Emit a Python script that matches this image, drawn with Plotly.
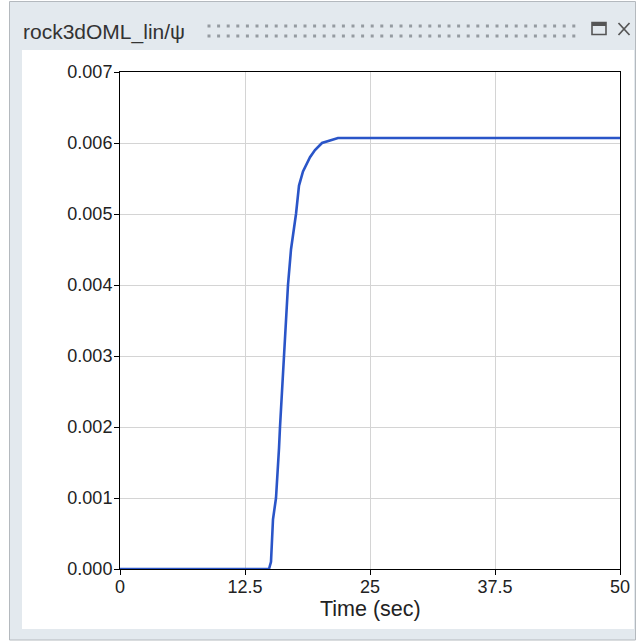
import plotly.graph_objects as go

# Data
time_sec = [0, 14.9, 15.1, 15.2, 15.3, 15.6, 15.8, 15.9, 16.0, 16.4, 16.8, 17.1, 17.3,
            17.6, 17.9, 18.3, 19.0, 19.5, 20.2, 20.8, 21.8, 50]
psi = [0, 0, 0.0001, 0.0004, 0.0007, 0.001, 0.0014, 0.0017, 0.002, 0.003, 0.004, 0.0045,
       0.0047, 0.005, 0.0054, 0.0056, 0.0058, 0.0059, 0.0060, 0.00603, 0.00607, 0.00607]

x_ticks = [0, 12.5, 25, 37.5, 50]
x_tick_labels = ["0", "12.5", "25", "37.5", "50"]
y_ticks = [0, 0.001, 0.002, 0.003, 0.004, 0.005, 0.006, 0.007]
title_text = "rock3dOML_lin/ψ"
x_title = "Time (sec)"

W, H = 637, 642
L, R, T, B = 120, 620, 72, 569
FONT = "Liberation Sans, Arial, sans-serif"


def px(p):
    return (p - L) / (R - L)


def py(p):
    return (B - p) / (B - T)


fig = go.Figure()
fig.add_trace(go.Scatter(x=time_sec, y=psi, mode="lines",
                         line=dict(color="#2a55c8", width=2.6),
                         showlegend=False, hoverinfo="skip"))

shapes = []
# outer frame
shapes.append(dict(type="rect", xref="paper", yref="paper", x0=px(9.5), x1=px(635.5),
                   y0=py(640), y1=py(1.5), line=dict(color="#b4b9be", width=1),
                   fillcolor="#e3e9ee", layer="below"))
# white panel
shapes.append(dict(type="rect", xref="paper", yref="paper", x0=px(22), x1=px(634),
                   y0=py(629), y1=py(50), line=dict(width=0),
                   fillcolor="white", layer="below"))
# dotted grip
for row in (26, 36):
    for i in range(39):
        x = 209 + i * 9.6
        shapes.append(dict(type="rect", xref="paper", yref="paper",
                           x0=px(x - 1.5), x1=px(x + 1.5), y0=py(row + 1.5), y1=py(row - 1.5),
                           line=dict(width=0), fillcolor="#959ba1"))
# maximize icon
shapes.append(dict(type="rect", xref="paper", yref="paper", x0=px(592), x1=px(606),
                   y0=py(34.5), y1=py(22.5), line=dict(color="#555", width=1.6),
                   fillcolor="rgba(0,0,0,0)"))
shapes.append(dict(type="line", xref="paper", yref="paper", x0=px(592), x1=px(606),
                   y0=py(24.5), y1=py(24.5), line=dict(color="#555", width=3)))
# close icon
shapes.append(dict(type="line", xref="paper", yref="paper", x0=px(618.5), x1=px(629.5),
                   y0=py(23), y1=py(35), line=dict(color="#555", width=1.7)))
shapes.append(dict(type="line", xref="paper", yref="paper", x0=px(618.5), x1=px(629.5),
                   y0=py(35), y1=py(23), line=dict(color="#555", width=1.7)))

annotations = [
    dict(text=title_text, xref="paper", yref="paper", x=px(21), y=py(31.5),
         xanchor="left", yanchor="middle", showarrow=False,
         font=dict(family=FONT, size=21, color="#333")),
    dict(text=x_title, xref="paper", yref="paper", x=px(370), y=py(609),
         xanchor="center", yanchor="middle", showarrow=False,
         font=dict(family=FONT, size=21.5, color="#222")),
]

fig.update_layout(
    width=W, height=H,
    margin=dict(l=L, r=W - R, t=T, b=H - B, autoexpand=False),
    paper_bgcolor="white",
    plot_bgcolor="white",
    font=dict(family=FONT, size=18, color="#222"),
    shapes=shapes,
    annotations=annotations,
    xaxis=dict(range=[0, 50], tickvals=x_ticks, ticktext=x_tick_labels,
               showgrid=True, gridcolor="#d4d4d4", gridwidth=1,
               showline=True, linecolor="black", linewidth=1, mirror=True,
               ticks="outside", ticklen=5, tickcolor="black", zeroline=False,
               ticklabelstandoff=-4, tickfont=dict(size=18)),
    yaxis=dict(range=[0, 0.007], tickvals=y_ticks, tickformat=".3f",
               showgrid=True, gridcolor="#d4d4d4", gridwidth=1,
               showline=True, linecolor="black", linewidth=1, mirror=True,
               ticks="outside", ticklen=5, tickcolor="black", zeroline=False,
               ticklabelstandoff=-2, tickfont=dict(size=18)),
)

fig.write_html("out.html", config={"displayModeBar": False, "staticPlot": True},
               post_script="document.body.style.margin='0';document.body.style.overflow='hidden';")
